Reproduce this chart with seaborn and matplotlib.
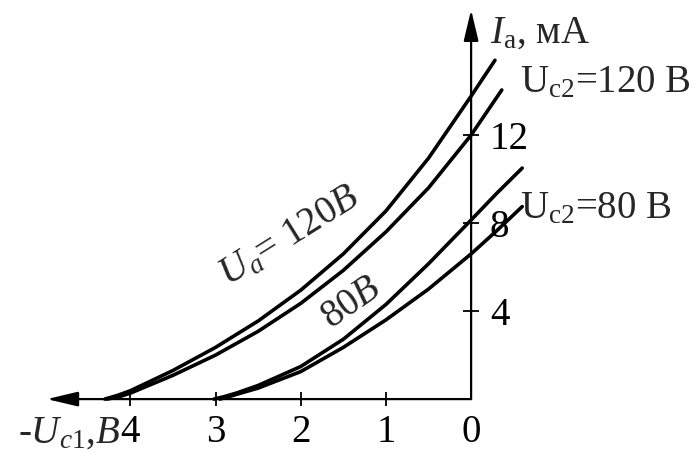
import numpy as np
import pandas as pd
import matplotlib
matplotlib.use("Agg")
import matplotlib.pyplot as plt
import seaborn as sns

# -Uc1 (V) and Ia (mA)
u_a120_s120 = [4.30, 4.15, 4.00, 3.50, 3.00, 2.50, 2.00, 1.50, 1.00, 0.50, 0.00, -0.28]
i_a120_s120 = [0.00, 0.17, 0.38, 1.30, 2.35, 3.55, 4.95, 6.60, 8.55, 10.95, 13.77, 15.40]

u_a80_s120 = [4.27, 4.12, 4.00, 3.50, 3.00, 2.50, 2.00, 1.50, 1.00, 0.50, 0.00, -0.36]
i_a80_s120 = [0.00, 0.12, 0.27, 1.08, 2.00, 3.08, 4.35, 5.85, 7.60, 9.60, 12.00, 14.05]

u_a120_s80 = [3.02, 2.90, 2.75, 2.50, 2.00, 1.50, 1.00, 0.50, 0.00, -0.30, -0.60]
i_a120_s80 = [0.00, 0.11, 0.28, 0.62, 1.48, 2.72, 4.30, 6.15, 8.14, 9.35, 10.50]

u_a80_s80 = [2.95, 2.85, 2.75, 2.50, 2.00, 1.50, 1.00, 0.50, 0.00, -0.30, -0.60]
i_a80_s80 = [0.00, 0.10, 0.22, 0.50, 1.25, 2.35, 3.60, 5.00, 6.60, 7.65, 8.75]

x_ticks = [0, 1, 2, 3, 4]
x_tick_labels = ["0", "1", "2", "3", "4"]
y_ticks = [4, 8, 12]
y_tick_labels = ["4", "8", "12"]

frames = []
for name, u, i in [("A", u_a120_s120, i_a120_s120), ("B", u_a80_s120, i_a80_s120),
                   ("C", u_a120_s80, i_a120_s80), ("D", u_a80_s80, i_a80_s80)]:
    frames.append(pd.DataFrame({"u": u, "I": i, "curve": name}))
df = pd.concat(frames, ignore_index=True)

sns.set_theme(style="white")
plt.rcParams["font.family"] = ["Liberation Serif", "DejaVu Serif"]
plt.rcParams["mathtext.fontset"] = "custom"
plt.rcParams["mathtext.rm"] = "Liberation Serif"
plt.rcParams["mathtext.it"] = "Liberation Serif:italic"
plt.rcParams["mathtext.bf"] = "Liberation Serif:bold"

fig = plt.figure(figsize=(6.96, 4.53), dpi=100)
ax = fig.add_axes([0, 0, 1, 1])
ax.set_facecolor("white")

sns.lineplot(data=df, x="u", y="I", hue="curve", estimator=None, sort=False,
             palette=["black"] * 4, legend=False, linewidth=2.6, ax=ax)
for ln in ax.get_lines():
    ln.set_solid_joinstyle("round")
    ln.set_solid_capstyle("round")

ax.set_xlim(5.53, -2.64)
ax.set_ylim(-2.45, 18.14)
ax.set_xlabel("")
ax.set_ylabel("")

for s in ax.spines.values():
    s.set_visible(False)
ax.spines["bottom"].set_position(("data", 0))
ax.spines["right"].set_position(("data", 0))
ax.xaxis.tick_bottom()
ax.yaxis.tick_right()

ax.set_xticks(x_ticks, labels=x_tick_labels)
ax.set_yticks(y_ticks, labels=y_tick_labels)
ax.tick_params(axis="x", direction="inout", length=10, width=1.3, color="black",
               labelsize=28, pad=6.0, labelcolor="black")
ax.tick_params(axis="y", direction="inout", length=11, width=1.3, color="black",
               labelsize=28, pad=8.0, labelcolor="black")
ax.xaxis.get_major_ticks()[0].tick1line.set_visible(False)

arrow = dict(arrowstyle="-|>,head_length=1.9,head_width=0.45", lw=1.6,
             color="black", mutation_scale=10, shrinkA=0, shrinkB=0)
ax.annotate("", xy=(4.98, 0), xytext=(0, 0), arrowprops=arrow)
ax.annotate("", xy=(0, 17.7), xytext=(0, 0), arrowprops=arrow)

fs = 28
ax.text(-0.22, 16.2, r"$I_{\mathrm{a}}$, мА", fontsize=fs, ha="left", va="baseline")
ax.text(-0.57, 13.95, r"U$_{\mathrm{c2}}$=120 В", fontsize=fs, ha="left", va="baseline")
ax.text(-0.57, 8.23, r"U$_{\mathrm{c2}}$=80 В", fontsize=fs, ha="left", va="baseline")
ax.text(4.12, -0.72, r"-$U_{c\mathrm{1}}$,$B$", fontsize=fs, ha="right", va="top")
ax.text(2.13, 7.36, r"$U_a$= 120$B$", fontsize=fs, ha="center", va="center",
        rotation=32, rotation_mode="anchor")
ax.text(1.40, 4.36, r"80$B$", fontsize=fs, ha="center", va="center",
        rotation=35, rotation_mode="anchor")

fig.savefig("out.png", dpi=100, facecolor="white")
